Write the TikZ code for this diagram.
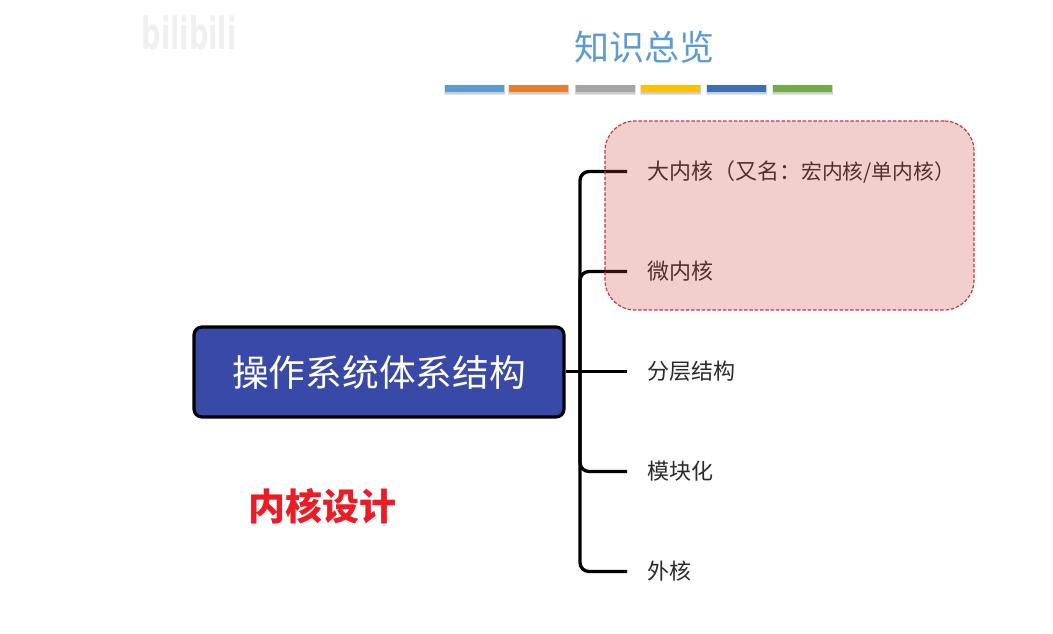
\documentclass[tikz,border=0pt]{standalone}
\usepackage{fontspec}
\setmainfont{Noto Sans CJK SC}
\newfontfamily\wmfont{DejaVu Sans}[BoldFont={DejaVu Sans Bold}]
\definecolor{barA}{HTML}{5B9BD5}
\definecolor{barB}{HTML}{E97F2C}
\definecolor{barC}{HTML}{A5A5A5}
\definecolor{barD}{HTML}{FFC000}
\definecolor{barE}{HTML}{3C6EB9}
\definecolor{barF}{HTML}{70AD47}
\definecolor{mainblue}{HTML}{3949A8}
\definecolor{itemtext}{HTML}{2A2A2A}
\definecolor{tint}{HTML}{CF3F3B}
\definecolor{tintline}{HTML}{BE3A40}
\definecolor{designred}{HTML}{EC1C24}
\tikzset{
  titletext/.style={font=\fontsize{35}{40}\selectfont, text=barA, inner sep=0pt},
  barnode/.style={draw=none, minimum width=59pt, minimum height=7pt, inner sep=0pt, anchor=north west},
  barshadow/.style={fill=black, opacity=.10, minimum width=60pt, minimum height=8.5pt, inner sep=0pt, anchor=north west},
  mainbox/.style={draw=black, line width=3.2pt, fill=mainblue, rounded corners=8pt, minimum width=370pt, minimum height=90pt, inner sep=0pt,
    text=white, font=\fontsize{36.7}{42}\selectfont},
  itemnode/.style={anchor=west, inner sep=0pt, text=itemtext, font=\fontsize{22}{26}\selectfont},
  conn/.style={draw=black, line width=3.3pt, rounded corners=9pt, shorten >=20pt},
  groupbox/.style={draw=tintline, line width=1.2pt, dash pattern=on 3.5pt off 1.8pt, fill=tint, fill opacity=.25, rounded corners=30pt},
  designtext/.style={font=\fontsize{37}{42}\bfseries\selectfont, text=designred, inner sep=0pt}
}
\begin{document}
\begin{tikzpicture}[x=1pt,y=-1pt]
\path[use as bounding box, fill=white] (0,0) rectangle (1053,633);
% watermark
\node[inner sep=0pt, text=black!6, xscale=.8, yscale=1.3, font=\wmfont\bfseries\fontsize{34}{38}\selectfont] (wm) at (189,33) {bilibili};
% title
\node[titletext] (title) at (644.5,47) {知识总览};
% bars
\foreach \n/\xx/\cc in {a/445/barA,b/509/barB,c/575.5/barC,d/641/barD,e/707/barE,f/773/barF}{
  \node[barshadow] (s\n) at (\xx-0.5,85) {};
  \node[barshadow, minimum height=9.5pt, minimum width=61pt] (t\n) at (\xx-1,85) {};
  \node[barnode, fill=\cc] (b\n) at (\xx,84.5) {};
}
% main
\node[mainbox] (main) at (379,372) {操作系统体系结构};
% items
\node[itemnode] (i1) at (647,171.5) {大内核（又名：{\fontsize{20.8}{26}\selectfont 宏内核/单内核）}};
\node[itemnode] (i2) at (647,271.5) {微内核};
\node[itemnode] (i3) at (647,371.5) {分层结构};
\node[itemnode] (i4) at (647,471.5) {模块化};
\node[itemnode] (i5) at (647,571.5) {外核};
\coordinate (trunk) at (580,371);
\draw[conn] (main.east |- i3.west) -- (i3.west);
\draw[conn] (trunk) |- (i1.west);
\draw[conn] (trunk) |- (i2.west);
\draw[conn] (trunk) |- (i4.west);
\draw[conn] (trunk) |- (i5.west);
% highlight
\node[groupbox, minimum width=369pt, minimum height=189pt, inner sep=0pt] (group) at (789.5,215.5) {};
% label
\node[designtext] (design) at (322.5,506) {内核设计};
\end{tikzpicture}
\end{document}
